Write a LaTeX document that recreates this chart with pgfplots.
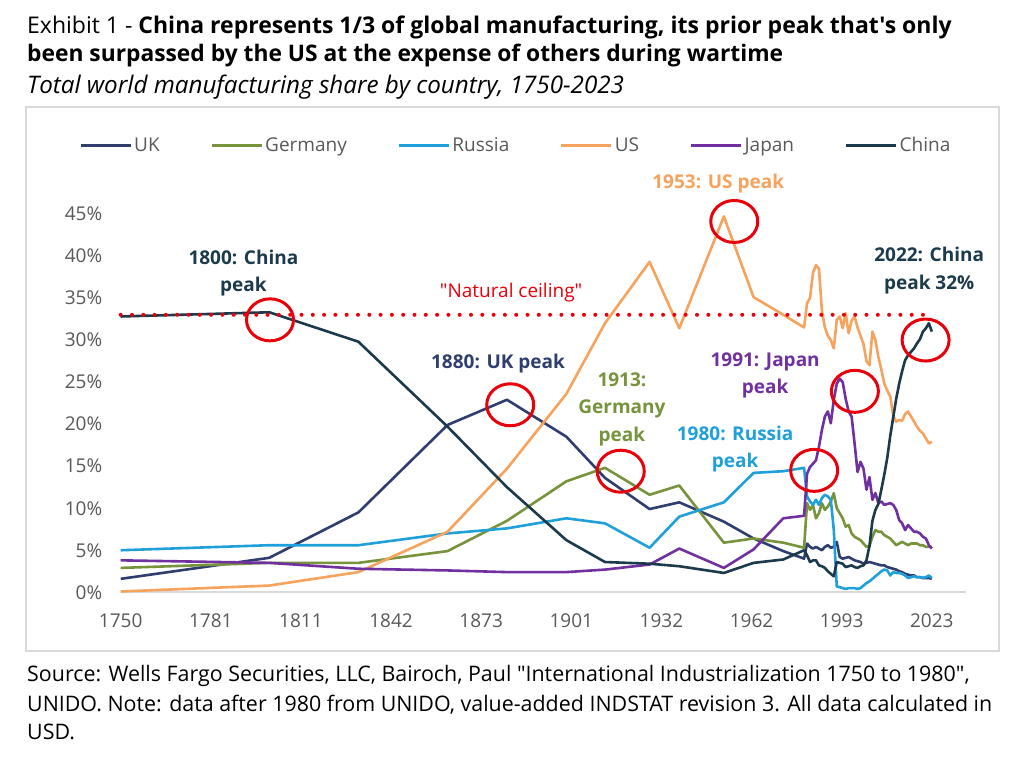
\documentclass[border=0pt]{standalone}
\usepackage{pgfplots}
\pgfplotsset{compat=1.18}
\usepackage{pgfplotstable}
\usepackage{fontspec}
\setmainfont{Open Sans}[Ligatures=TeXOff]
\definecolor{cUK}{HTML}{2F3E6E}
\definecolor{cDE}{HTML}{77933C}
\definecolor{cRU}{HTML}{1FA0DA}
\definecolor{cUS}{HTML}{F6A35E}
\definecolor{cJP}{HTML}{7030A0}
\definecolor{cCN}{HTML}{1B3A4B}
\definecolor{cRed}{HTML}{E8000B}
\definecolor{cTick}{HTML}{595959}
\definecolor{cBorder}{HTML}{D9D9D9}

\pgfplotstableread{
year uk de ru us jp cn
1750 1.6 2.9 5.0 0.1 3.8 32.8
1800 4.1 3.5 5.6 0.8 3.5 33.3
1830 9.5 3.5 5.6 2.4 2.8 29.8
1860 19.9 4.9 7.0 7.2 2.6 19.7
1880 22.9 8.5 7.6 14.7 2.4 12.5
1900 18.5 13.2 8.8 23.6 2.4 6.2
1913 13.6 14.8 8.2 32.0 2.7 3.6
1928 9.9 11.6 5.3 39.3 3.3 3.4
1938 10.7 12.7 9.0 31.4 5.2 3.1
1953 8.4 5.9 10.7 44.7 2.9 2.3
1963 6.4 6.4 14.2 35.1 5.1 3.5
1973 4.9 5.9 14.4 33.0 8.8 3.9
1980 4.0 5.3 14.8 31.5 9.1 5.0
1981 5.8 10.6 11.4 34.4 14.1 4.4
1982 5.4 9.8 10.8 35.0 14.9 3.6
1983 5.2 10.4 10.4 38.0 15.3 3.8
1984 5.4 8.8 11.0 38.9 15.7 3.8
1985 5.2 9.4 10.4 38.5 17.3 3.2
1986 5.0 10.6 11.2 33.5 19.3 3.1
1987 5.4 9.8 11.6 31.5 20.9 2.9
1988 5.6 10.2 11.4 30.5 21.5 2.5
1989 5.3 10.8 11.0 30.0 20.1 2.2
1990 5.4 11.8 7.4 29.0 22.9 1.9
1991 6.0 10.0 0.7 32.4 24.8 3.6
1992 4.2 9.4 0.6 32.8 25.4 3.5
1993 4.0 8.8 0.5 31.4 25.0 3.4
1994 4.1 7.8 0.4 33.2 23.0 3.0
1995 4.2 8.0 0.5 30.8 21.5 3.1
1996 4.0 7.0 0.5 32.3 20.9 3.2
1997 3.8 6.6 0.5 32.8 17.7 3.0
1998 3.7 6.4 0.4 31.5 14.3 2.9
1999 3.6 6.2 0.5 30.5 15.5 3.1
2000 3.4 5.8 0.8 29.5 14.7 3.2
2001 3.5 5.4 1.1 27.5 12.2 3.8
2002 3.6 5.5 1.3 27.0 13.7 5.5
2003 3.5 6.6 1.6 31.0 11.0 8.5
2004 3.4 7.4 1.9 30.0 11.8 9.8
2005 3.3 7.2 2.2 28.0 10.6 10.5
2006 3.2 7.2 2.5 26.5 10.8 12.2
2007 3.2 6.8 2.7 24.8 10.4 14.0
2008 3.0 6.6 2.6 24.0 10.5 16.0
2009 2.9 6.4 2.0 23.3 10.6 18.6
2010 2.8 6.0 2.4 21.0 10.4 20.8
2011 2.7 5.6 2.3 20.3 9.8 23.0
2012 2.5 5.8 2.3 20.5 8.6 24.8
2013 2.4 6.0 2.2 20.4 8.2 26.3
2014 2.2 5.8 2.0 21.2 7.4 27.6
2015 2.1 5.6 1.7 21.5 8.0 28.2
2016 2.0 5.8 1.8 20.9 7.6 28.6
2017 2.0 5.8 1.9 20.3 7.2 29.0
2018 1.8 5.8 1.8 19.7 7.2 29.6
2019 1.8 5.6 1.8 19.2 7.0 30.1
2020 1.7 5.6 1.7 18.9 6.6 31.0
2021 1.7 5.4 1.8 18.3 6.4 31.4
2022 1.7 5.4 2.0 17.7 5.6 32.0
2023 1.6 5.4 1.7 17.9 5.2 31.0
}\datatable

\begin{document}
\begin{tikzpicture}
\path[use as bounding box, fill=white] (0pt,0pt) rectangle (1024pt,765pt);
% titles
\node[anchor=base west, inner sep=0pt] at (27pt,731.5pt) {\fontsize{23}{27}\selectfont Exhibit 1 - \textbf{China represents 1/3 of global manufacturing, its prior peak that's only}};
\node[anchor=base west, inner sep=0pt] at (27pt,703.5pt) {\fontsize{22.8}{27}\selectfont\bfseries been surpassed by the US at the expense of others during wartime};
\node[anchor=base west, inner sep=0pt] at (27pt,671pt) {\fontsize{24.2}{27}\selectfont\itshape Total world manufacturing share by country, 1750-2023};
% source
\node[anchor=base west, inner sep=0pt] at (27pt,83.3pt) {\fontsize{21.4}{24}\selectfont Source: Wells Fargo Securities, LLC, Bairoch, Paul "International Industrialization 1750 to 1980",};
\node[anchor=base west, inner sep=0pt] at (27pt,54pt) {\fontsize{21.4}{24}\selectfont UNIDO. Note: data after 1980 from UNIDO, value-added INDSTAT revision 3. All data calculated in};
\node[anchor=base west, inner sep=0pt] at (27pt,25.7pt) {\fontsize{21.4}{24}\selectfont USD.};
% chart border
\draw[cBorder, line width=1.5pt] (26pt,114pt) rectangle (999pt,658pt);
\begin{axis}[
  at={(120.7pt,172.7pt)}, anchor=south west,
  scale only axis, width=845.3pt, height=378.4pt,
  xmin=1750, xmax=2034.5, ymin=0, ymax=45,
  clip=false,
  axis lines=left,
  axis line style={-},
  y axis line style={draw=none},
  x axis line style={draw=cBorder, line width=2pt},
  major tick length=0pt,
  xtick={1750,1780.333,1810.667,1841,1871.333,1901.667,1932,1962.333,1992.667,2023},
  xticklabels={1750,1781,1811,1842,1873,1901,1932,1962,1993,2023},
  ytick={0,5,10,15,20,25,30,35,40,45},
  yticklabels={0\%,5\%,10\%,15\%,20\%,25\%,30\%,35\%,40\%,45\%},
  tick label style={font=\fontsize{19}{23}\selectfont, text=cTick},
  xticklabel style={yshift=-18pt},
  yticklabel style={xshift=-15pt},
  legend columns=6,
  legend style={at={(axis description cs:-0.0493,1.182)}, anchor=west, draw=none, fill=none,
    inner sep=0pt, font=\fontsize{19}{23}\selectfont, text=cTick,
    /tikz/every even column/.append style={column sep=48.5pt}},
  legend image code/.code={\draw[#1, line width=3pt] (0pt,0pt) -- (50pt,0pt);},
  every axis plot/.append style={line width=2.6pt, line join=round},
]
\addplot[cUK] table[x=year,y=uk]{\datatable};
\addplot[cDE] table[x=year,y=de]{\datatable};
\addplot[cRU] table[x=year,y=ru]{\datatable};
\addplot[cUS] table[x=year,y=us]{\datatable};
\addplot[cJP] table[x=year,y=jp]{\datatable};
\addplot[cCN] table[x=year,y=cn]{\datatable};
\legend{UK,Germany,Russia,US,Japan,China}
\addplot[cRed, line width=4pt, dash pattern=on 0pt off 11.3pt, line cap=round, forget plot] coordinates {(1750,33) (2021,33)};
% circles
\draw[cRed, line width=3pt] (axis cs:1800.25,32.4) ellipse [x radius=23.5pt, y radius=21pt];
\draw[cRed, line width=3pt] (axis cs:1881.1,22.3) ellipse [x radius=23.5pt, y radius=21pt];
\draw[cRed, line width=3pt] (axis cs:1918.3,14.4) ellipse [x radius=23.5pt, y radius=21pt];
\draw[cRed, line width=3pt] (axis cs:1956.5,44.1) ellipse [x radius=23.5pt, y radius=21pt];
\draw[cRed, line width=3pt] (axis cs:1983.4,14.5) ellipse [x radius=23.5pt, y radius=21pt];
\draw[cRed, line width=3pt] (axis cs:1997.1,23.9) ellipse [x radius=23.5pt, y radius=21pt];
\draw[cRed, line width=3pt] (axis cs:2020.9,30.0) ellipse [x radius=23.5pt, y radius=21pt];
% annotations
\node[font=\fontsize{19}{27.4}\selectfont\bfseries, text=cCN, align=center] at (axis cs:1791.3,37.97) {1800: China\\peak};
\node[font=\fontsize{19}{27.4}\selectfont, text=cRed] at (axis cs:1881.4,35.6) {"Natural ceiling"};
\node[font=\fontsize{19}{27.4}\selectfont\bfseries, text=cUK] at (axis cs:1877.0,27.15) {1880: UK peak};
\node[font=\fontsize{19}{27.4}\selectfont\bfseries, text=cUS] at (axis cs:1951.1,48.55) {1953: US peak};
\node[font=\fontsize{19}{27.4}\selectfont\bfseries, text=cCN, align=center] at (axis cs:2022.1,38.24) {2022: China\\peak 32\%};
\node[font=\fontsize{19}{27.4}\selectfont\bfseries, text=cJP, align=center] at (axis cs:1966.9,25.78) {1991: Japan\\peak};
\node[font=\fontsize{19}{27.4}\selectfont\bfseries, text=cDE, align=center] at (axis cs:1918.7,21.76) {1913:\\Germany\\peak};
\node[font=\fontsize{19}{27.4}\selectfont\bfseries, text=cRU, align=center] at (axis cs:1956.8,17.0) {1980: Russia\\peak};
\end{axis}
\end{tikzpicture}
\end{document}
